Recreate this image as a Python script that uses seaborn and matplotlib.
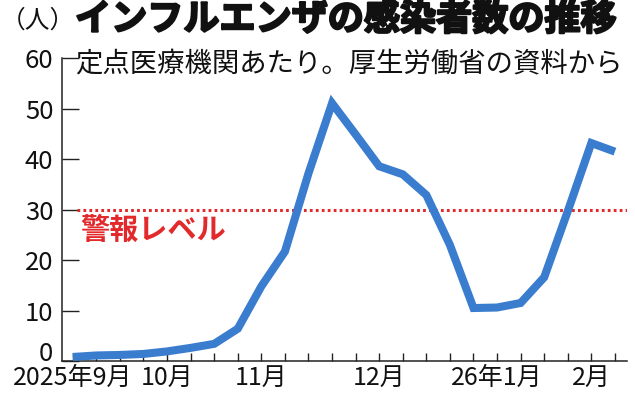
import matplotlib
matplotlib.use("Agg")
import matplotlib.pyplot as plt
import matplotlib.transforms as mtransforms
import matplotlib.patheffects as pe
import seaborn as sns
import pandas as pd

# ---- data ----
weeks = list(range(24))
cases = [0.8, 1.1, 1.2, 1.4, 1.9, 2.6, 3.4, 6.4, 14.8, 21.7, 37.2, 51.1,
         44.9, 38.6, 37.0, 32.9, 23.0, 10.5, 10.6, 11.5, 16.6, 29.7, 43.2, 41.5]
month_pos = [0, 4, 8, 13, 18, 22]
month_labels = ["2025年9月", "10月", "11月", "12月", "26年1月", "2月"]
y_ticks = [0, 10, 20, 30, 40, 50, 60]
alert_level = 30
alert_label = "警報レベル"
title_unit = "（人）"
title = "インフルエンザの感染者数の推移"
subtitle = "定点医療機関あたり。厚生労働省の資料から"

df = pd.DataFrame({"week": weeks, "cases": cases})

sns.set_theme(style="white")
plt.rcParams["font.family"] = ["Noto Sans CJK JP", "DejaVu Sans"]

W, H = 635, 399
fig = plt.figure(figsize=(W / 100, H / 100), dpi=100)
fig.patch.set_facecolor("white")
ax = fig.add_axes([61.7 / W, 38 / H, (626.7 - 61.7) / W, (361 - 58.3) / H])

blue = "#3a7dcf"
red = "#e2292b"

sns.lineplot(data=df, x="week", y="cases", color=blue, linewidth=5.8,
             ax=ax, solid_capstyle="butt", solid_joinstyle="miter",
             clip_on=False, zorder=3)

ax.axhline(alert_level, xmin=0.027, xmax=1.0, color=red, linewidth=2.2,
           linestyle=(0, (0.9, 1.05)), zorder=2)
ax.text(0.3, 25.9, alert_label, color=red, fontsize=21, fontweight="bold",
        ha="left", va="center")

ax.set_xlim(-0.47, 23.5)
ax.set_ylim(0, 60)

ax.set_xticks(weeks)
xl = [""] * len(weeks)
for p, l in zip(month_pos, month_labels):
    xl[p] = l
ax.set_xticklabels(xl, fontsize=18, color="#111111")
ax.set_yticks(y_ticks)
ax.set_yticklabels([str(v) for v in y_ticks], fontsize=18.5, color="#111111")

ax.tick_params(axis="x", direction="in", length=6, width=1.0, color="#222222",
               pad=2.5, bottom=True)
ax.tick_params(axis="y", direction="in", length=12, width=1.0, color="#222222",
               pad=6, left=True)

# lift the "0" label a little, as in the original
lbl0 = ax.get_yticklabels()[0]
lbl0.set_transform(lbl0.get_transform() +
                   mtransforms.ScaledTranslation(0, 10 / 100, fig.dpi_scale_trans))

for s in ["top", "right"]:
    ax.spines[s].set_visible(False)
for s in ["left", "bottom"]:
    ax.spines[s].set_color("#222222")
    ax.spines[s].set_linewidth(1.1)

ax.set_xlabel("")
ax.set_ylabel("")

fig.text(0.5 / W, 1 - 21 / H, title_unit, fontsize=17.8, ha="left", va="center",
         color="#111111")
fig.text(75 / W, 1 - 19.5 / H, title, fontsize=26, fontweight="bold", ha="left",
         va="center", color="#111111",
         path_effects=[pe.withStroke(linewidth=1.6, foreground="#111111")])
fig.text(75 / W, 1 - 64 / H, subtitle, fontsize=19.7, ha="left", va="center",
         color="#111111")

fig.savefig("out.png", dpi=100, facecolor="white")
